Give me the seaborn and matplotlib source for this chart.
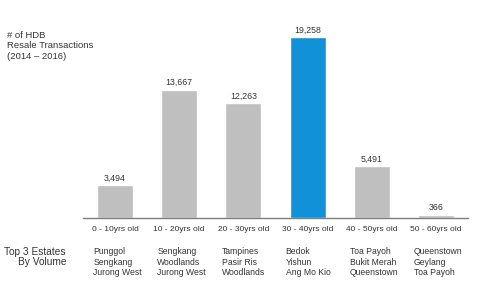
import matplotlib
matplotlib.use("Agg")
import matplotlib.pyplot as plt
import matplotlib.transforms as mtransforms
import seaborn as sns
import pandas as pd

categories = ["0 - 10yrs old", "10 - 20yrs old", "20 - 30yrs old",
              "30 - 40yrs old", "40 - 50yrs old", "50 - 60yrs old"]
values = [3494, 13667, 12263, 19258, 5491, 366]
highlight = [False, False, False, True, False, False]
estates = [
    ["Punggol", "Sengkang", "Jurong West"],
    ["Sengkang", "Woodlands", "Jurong West"],
    ["Tampines", "Pasir Ris", "Woodlands"],
    ["Bedok", "Yishun", "Ang Mo Kio"],
    ["Toa Payoh", "Bukit Merah", "Queenstown"],
    ["Queenstown", "Geylang", "Toa Payoh"],
]
title_lines = ["# of HDB", "Resale Transactions", "(2014 \u2013 2016)"]

sns.set_theme(style="white")
plt.rcParams["font.family"] = ["Liberation Sans", "DejaVu Sans"]

df = pd.DataFrame({"age": categories, "count": values,
                   "hl": ["yes" if h else "no" for h in highlight]})

fig = plt.figure(figsize=(4.82, 3.0), dpi=100)
ax = fig.add_axes([0.172, 0.273, 0.799, 0.627])
sns.barplot(data=df, x="age", y="count", hue="hl",
            palette={"no": "#BFBFBF", "yes": "#1192D8"},
            dodge=False, width=0.56, legend=False, ax=ax, saturation=1)

ax.set_ylim(0, 20000)
ax.set_xlim(-0.5, 5.5)
for s in ["top", "right", "left"]:
    ax.spines[s].set_visible(False)
ax.spines["bottom"].set_color("#7F7F7F")
ax.spines["bottom"].set_linewidth(1.0)
ax.set_yticks([])
ax.set_xlabel("")
ax.set_ylabel("")
ax.tick_params(axis="x", length=0, pad=6, labelsize=6.0, colors="#333333")

for i, v in enumerate(values):
    ax.text(i, v + 250, f"{v:,}", ha="center", va="bottom",
            fontsize=6.3, color="#333333")

trans = mtransforms.blended_transform_factory(ax.transData, fig.transFigure)
for i, names in enumerate(estates):
    ax.text(i - 0.34, 1 - 247 / 300, "\n".join(names), transform=trans,
            ha="left", va="top", fontsize=6.2, color="#333333",
            linespacing=1.22)

fig.text(66 / 482, 1 - 247 / 300, "Top 3 Estates\nBy Volume", ha="right",
         va="top", fontsize=7.3, color="#333333", linespacing=1.05,
         multialignment="right")

fig.text(7 / 482, 1 - 31 / 300, "\n".join(title_lines), ha="left", va="top",
         fontsize=6.8, color="#333333", linespacing=1.18)

fig.savefig("out.png", dpi=100, facecolor="white")
